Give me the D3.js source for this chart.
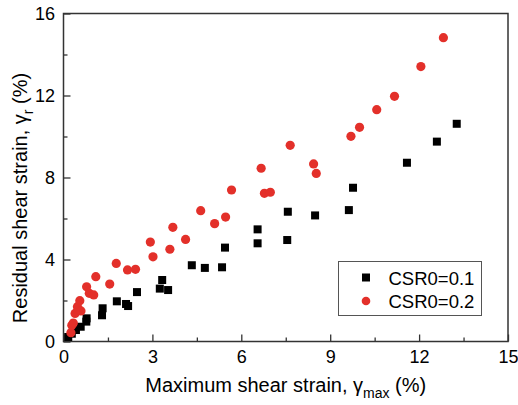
<!DOCTYPE html>
<head>
  <meta charset="utf-8">
  <title>Residual vs maximum shear strain</title>
  <script src="https://d3js.org/d3.v7.min.js"></script>
  <style>
  body { margin: 0; background: #fff; }
  text { font-family: "Liberation Sans", Arial, sans-serif; fill: #000; }
  .axis path { display: none; }
  .axis line { stroke: #333; stroke-width: 1.3; }
  </style>
</head>
<body>
  <script>

    // Data: [max shear strain, residual shear strain] in %
    var csr01 = [
      [0.16, 0.22], [0.28, 0.38], [0.42, 0.56], [0.58, 0.72], [0.77, 0.97],
      [0.78, 1.13], [1.30, 1.28], [1.32, 1.62], [1.80, 1.96], [2.11, 1.83],
      [2.18, 1.73], [2.48, 2.41], [3.25, 2.58], [3.33, 3.00], [3.53, 2.51],
      [4.33, 3.72], [4.77, 3.59], [5.35, 3.62], [5.45, 4.58], [6.55, 5.47],
      [6.55, 4.79], [7.55, 4.95], [7.57, 6.33], [8.49, 6.15], [9.63, 6.41],
      [9.77, 7.50], [11.59, 8.72], [12.60, 9.75], [13.27, 10.62]
    ];
    var csr02 = [
      [0.25, 0.43], [0.28, 0.79], [0.33, 0.90], [0.39, 1.37], [0.47, 1.70],
      [0.59, 1.49], [0.55, 1.99], [0.78, 2.67], [0.87, 2.35], [1.02, 2.27],
      [1.09, 3.16], [1.56, 2.80], [1.78, 3.81], [2.16, 3.49], [2.43, 3.52],
      [2.93, 4.85], [3.02, 4.13], [3.59, 4.50], [3.69, 5.57], [4.12, 4.98],
      [4.63, 6.38], [5.10, 5.75], [5.47, 6.07], [5.67, 7.39], [6.67, 8.45],
      [6.78, 7.23], [6.98, 7.28], [7.65, 9.57], [8.44, 8.66], [8.53, 8.20],
      [9.70, 10.01], [9.99, 10.45], [10.57, 11.31], [11.17, 11.96],
      [12.06, 13.41], [12.82, 14.82]
    ];
    var xTicks = [0, 3, 6, 9, 12, 15];
    var xMinor = [1.5, 4.5, 7.5, 10.5, 13.5];
    var yTicks = [0, 4, 8, 12, 16];
    var yMinor = [2, 6, 10, 14];
    var seriesNames = ["CSR0=0.1", "CSR0=0.2"];

    // Set margins
    var margin = {top: 13.5, right: 10, bottom: 63.5, left: 63.5},
      width = 518 - margin.left - margin.right,
      height = 405 - margin.top - margin.bottom;

    var x = d3.scaleLinear().domain([0, 15]).range([0, width]);
    var y = d3.scaleLinear().domain([0, 16]).range([height, 0]);

    var svg = d3.select("body").append("svg")
      .attr("width", 518)
      .attr("height", 405)
      .append("g")
      .attr("transform", "translate(" + margin.left + "," + margin.top + ")");

    // Axes with inward ticks
    svg.append("g")
      .attr("class", "axis")
      .attr("transform", "translate(0," + height + ")")
      .call(d3.axisBottom(x).tickValues(xTicks).tickSize(-7).tickPadding(9))
      .selectAll("text").style("font-size", "18px");

    svg.append("g")
      .attr("class", "axis")
      .attr("transform", "translate(0," + height + ")")
      .call(d3.axisBottom(x).tickValues(xMinor).tickSize(-4).tickFormat(""));

    svg.append("g")
      .attr("class", "axis")
      .call(d3.axisLeft(y).tickValues(yTicks).tickSize(-7).tickPadding(8.5))
      .selectAll("text").style("font-size", "18px");

    svg.append("g")
      .attr("class", "axis")
      .call(d3.axisLeft(y).tickValues(yMinor).tickSize(-4).tickFormat(""));

    // Frame
    svg.append("rect")
      .attr("width", width)
      .attr("height", height)
      .attr("fill", "none")
      .attr("stroke", "#333")
      .attr("stroke-width", 1.5);

    // Series 1: black squares
    svg.selectAll(".sq")
      .data(csr01)
      .enter().append("rect")
      .attr("class", "sq")
      .attr("x", function(d) { return x(d[0]) - 4; })
      .attr("y", function(d) { return y(d[1]) - 4; })
      .attr("width", 8)
      .attr("height", 8)
      .attr("fill", "#000");

    // Series 2: red circles
    svg.selectAll(".dot")
      .data(csr02)
      .enter().append("circle")
      .attr("class", "dot")
      .attr("cx", function(d) { return x(d[0]); })
      .attr("cy", function(d) { return y(d[1]); })
      .attr("r", 4.6)
      .attr("fill", "#e3302a");

    // Legend
    var legend = svg.append("g")
      .attr("transform", "translate(" + (338.5 - margin.left) + "," + (261.5 - margin.top) + ")");
    legend.append("rect")
      .attr("width", 143)
      .attr("height", 54)
      .attr("fill", "#fff")
      .attr("stroke", "#555")
      .attr("stroke-width", 1);
    legend.append("rect")
      .attr("x", 23.5).attr("y", 12)
      .attr("width", 8).attr("height", 8)
      .attr("fill", "#000");
    legend.append("circle")
      .attr("cx", 27.5).attr("cy", 39.5).attr("r", 4.3)
      .attr("fill", "#e3302a");
    legend.selectAll(".lt")
      .data(seriesNames)
      .enter().append("text")
      .attr("class", "lt")
      .attr("x", 50)
      .attr("y", function(d, i) { return 23 + i * 23; })
      .style("font-size", "18.5px")
      .text(function(d) { return d; });

    // X axis label
    var xl = svg.append("text")
      .attr("x", width / 2)
      .attr("y", 378.5)
      .attr("text-anchor", "middle")
      .style("font-size", "20px");
    xl.append("tspan").text("Maximum shear strain, \u03b3");
    xl.append("tspan").attr("dy", 6).style("font-size", "14px").text("max");
    xl.append("tspan").attr("dy", -6).text(" (%)");

    // Y axis label
    var yl = svg.append("text")
      .attr("transform", "translate(" + (27 - margin.left) + "," + (198 - margin.top) + ") rotate(-90)")
      .attr("text-anchor", "middle")
      .style("font-size", "20px");
    yl.append("tspan").text("Residual shear strain, \u03b3");
    yl.append("tspan").attr("dy", 6).style("font-size", "14px").text("r");
    yl.append("tspan").attr("dy", -6).text(" (%)");

  </script>
</body>
</html>
